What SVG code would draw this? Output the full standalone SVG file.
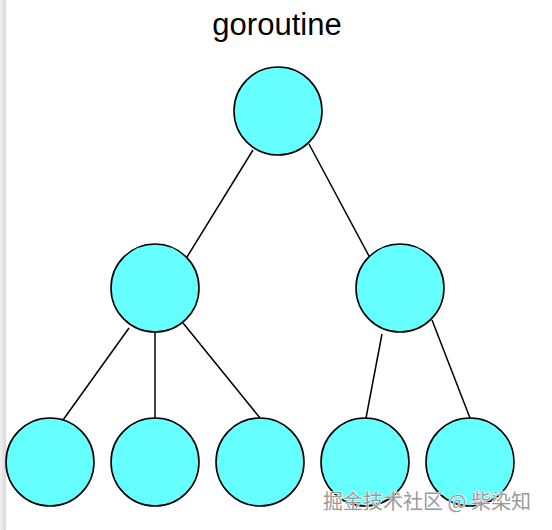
<svg xmlns="http://www.w3.org/2000/svg" width="552" height="530" viewBox="0 0 552 530">
<style>
.node{fill:#66ffff;stroke:#000;stroke-width:1.6}
.edge{stroke:#000;stroke-width:1.5;fill:none}
.title{font-family:"Liberation Sans",Arial,sans-serif;font-size:31px;fill:#000}
.wm{font-family:"Noto Sans CJK SC","Liberation Sans",sans-serif;font-size:20px;fill:#9a9a9a;stroke:#fff;stroke-width:1.2;paint-order:stroke}
</style>
<defs>
<linearGradient id="edgeg" x1="0" y1="0" x2="1" y2="0">
<stop offset="0" stop-color="#f2f2f2"/>
<stop offset="1" stop-color="#d6d6d6"/>
</linearGradient>
</defs>
<rect width="552" height="530" fill="#fff"/>
<rect x="0" y="0" width="6" height="530" fill="url(#edgeg)"/>
<text class="title" x="277" y="35" text-anchor="middle">goroutine</text>
<g id="connectors">
<line class="edge" x1="253" y1="150" x2="187" y2="257"/>
<line class="edge" x1="309" y1="144" x2="369" y2="256"/>
<line class="edge" x1="129" y1="328" x2="63" y2="420"/>
<line class="edge" x1="155" y1="331" x2="155" y2="418"/>
<line class="edge" x1="183" y1="323" x2="260" y2="418"/>
<line class="edge" x1="382" y1="334" x2="366" y2="418"/>
<line class="edge" x1="432" y1="320" x2="470" y2="418"/>
</g>
<g id="n0"><circle class="node" cx="278" cy="111" r="44"/></g>
<g id="n1"><circle class="node" cx="155" cy="288" r="44"/></g>
<g id="n2"><circle class="node" cx="400" cy="288" r="44"/></g>
<g id="n3"><circle class="node" cx="50" cy="462" r="44"/></g>
<g id="n4"><circle class="node" cx="155" cy="462" r="44"/></g>
<g id="n5"><circle class="node" cx="260" cy="462" r="44"/></g>
<g id="n6"><circle class="node" cx="365" cy="462" r="44"/></g>
<g id="n7"><circle class="node" cx="470" cy="462" r="44"/></g>
<text class="wm" x="323" y="509">掘金技术社区 @ 柴染知</text>
</svg>
